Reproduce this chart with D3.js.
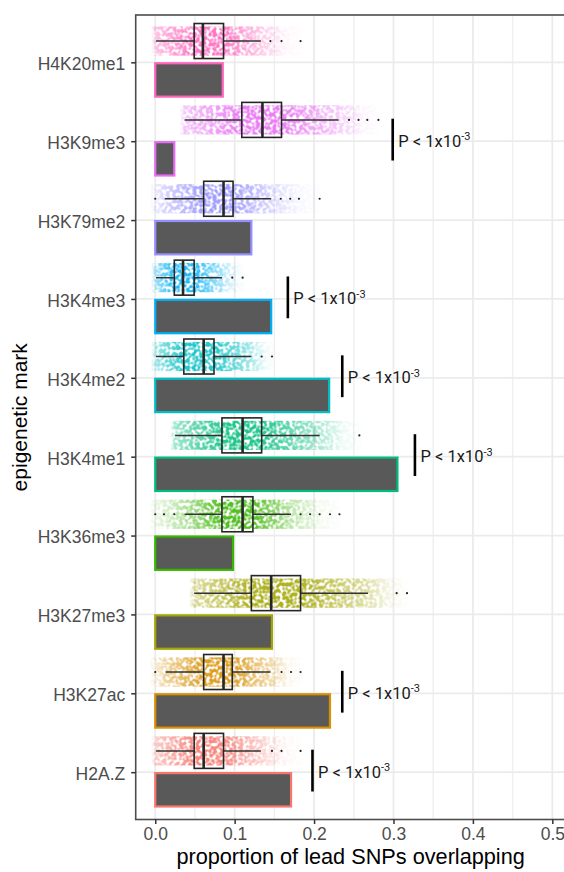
<!DOCTYPE html>
<html>
<head>
<meta charset="utf-8">
<script src="https://cdn.jsdelivr.net/npm/d3@7/dist/d3.min.js"></script>
<style>
  html, body { margin: 0; padding: 0; background: #fff; }
  svg { display: block; }
</style>
</head>
<body>
<svg id="chart" width="564" height="872"></svg>
<script>
// Epigenetic marks, top to bottom
const marks = ["H4K20me1", "H3K9me3", "H3K79me2", "H3K4me3", "H3K4me2",
               "H3K4me1", "H3K36me3", "H3K27me3", "H3K27ac", "H2A.Z"];

// Observed proportion of lead SNPs overlapping each mark (bars)
const observed = [0.085, 0.024, 0.121, 0.146, 0.219, 0.305, 0.098, 0.147, 0.220, 0.171];

// Null distribution summaries (box plots)
const whiskerLow  = [0.001, 0.037, 0.012, 0.001, 0.001, 0.025, 0.037, 0.049, 0.013, 0.001];
const q1          = [0.049, 0.109, 0.061, 0.024, 0.036, 0.084, 0.084, 0.121, 0.061, 0.049];
const median      = [0.060, 0.135, 0.086, 0.035, 0.061, 0.110, 0.110, 0.146, 0.086, 0.061];
const q3          = [0.086, 0.159, 0.098, 0.049, 0.074, 0.134, 0.123, 0.183, 0.097, 0.086];
const whiskerHigh = [0.133, 0.231, 0.146, 0.084, 0.121, 0.207, 0.171, 0.268, 0.145, 0.133];
const outliers = [
  [0.145, 0.159, 0.183],
  [0.244, 0.256, 0.267, 0.281],
  [0.000, 0.158, 0.170, 0.181, 0.207],
  [0.097, 0.110],
  [0.134, 0.147],
  [0.257],
  [0.000, 0.011, 0.024, 0.183, 0.195, 0.207, 0.220, 0.232],
  [0.304, 0.317],
  [0.000, 0.159, 0.171, 0.183],
  [0.147, 0.159, 0.183]
];

// Significance annotations: mark, x position of the bracket
const sigMarks = ["H3K9me3", "H3K4me3", "H3K4me2", "H3K4me1", "H3K27ac", "H2A.Z"];
const sigX     = [0.299, 0.167, 0.2355, 0.327, 0.2355, 0.198];
const sigLabel = "P < 1x10";
const sigExp   = "-3";

const xTicks = [0, 0.1, 0.2, 0.3, 0.4, 0.5];
const xMinor = [0.05, 0.15, 0.25, 0.35, 0.45];
const xLimits = [-0.0246, 0.5166];

// default ggplot hue palette, assigned alphabetically
const hue = {
  "H2A.Z": "#F8766D", "H3K27ac": "#D89000", "H3K27me3": "#A3A500",
  "H3K36me3": "#39B600", "H3K4me1": "#00BF7D", "H3K4me2": "#00BFC4",
  "H3K4me3": "#00B0F6", "H3K79me2": "#9590FF", "H3K9me3": "#E76BF3",
  "H4K20me1": "#FF62BC"
};

const rows = marks.map((m, i) => ({
  mark: m, obs: observed[i], wl: whiskerLow[i], q1: q1[i], med: median[i],
  q3: q3[i], wh: whiskerHigh[i], out: outliers[i], color: hue[m]
}));

const panel = { left: 135.7, right: 565.5, top: 15, bottom: 819.5 };

const x = d3.scaleLinear().domain(xLimits).range([panel.left, panel.right]);
const y = d3.scalePoint().domain(marks).range([panel.top, panel.bottom]).padding(0.6);
const step = y.step();

const boxOff = -0.27 * step;   // box centre relative to the tick
const boxHalf = 0.222 * step;
const cloudHalf = 0.185 * step;
const barTop = 0.012 * step, barBottom = 0.435 * step;

const svg = d3.select("#chart");
const defs = svg.append("defs");

// grainy texture that breaks the density bands into soft specks
const grain = defs.append("filter").attr("id", "grain")
  .attr("x", "-5%").attr("y", "-20%").attr("width", "110%").attr("height", "140%");
grain.append("feTurbulence").attr("type", "fractalNoise").attr("baseFrequency", 0.3)
  .attr("numOctaves", 1).attr("seed", 11).attr("result", "noise");
grain.append("feComponentTransfer").attr("in", "noise").attr("result", "specks")
  .append("feFuncA").attr("type", "linear").attr("slope", 4.2).attr("intercept", -1.45);
grain.append("feComposite").attr("in", "SourceGraphic").attr("in2", "specks")
  .attr("operator", "in").attr("result", "dots");
grain.append("feGaussianBlur").attr("in", "dots").attr("stdDeviation", 0.45);

defs.append("clipPath").attr("id", "panelClip").append("rect")
  .attr("x", panel.left).attr("y", panel.top)
  .attr("width", panel.right - panel.left).attr("height", panel.bottom - panel.top);

// grid
const grid = svg.append("g");
grid.selectAll("line.minor").data(xMinor).join("line")
  .attr("x1", d => x(d)).attr("x2", d => x(d))
  .attr("y1", panel.top).attr("y2", panel.bottom)
  .attr("stroke", "#efefef").attr("stroke-width", 1.4);
grid.selectAll("line.majx").data(xTicks).join("line")
  .attr("x1", d => x(d)).attr("x2", d => x(d))
  .attr("y1", panel.top).attr("y2", panel.bottom)
  .attr("stroke", "#ebebeb").attr("stroke-width", 1.8);
grid.selectAll("line.majy").data(marks).join("line")
  .attr("x1", panel.left).attr("x2", panel.right)
  .attr("y1", d => y(d)).attr("y2", d => y(d))
  .attr("stroke", "#ebebeb").attr("stroke-width", 1.8);

const plot = svg.append("g").attr("clip-path", "url(#panelClip)");

// jittered null draws, shown as a speckled density band
const cloudLo = r => Math.min(r.wl, d3.min(r.out)) - 0.006;
const cloudHi = r => Math.max(r.wh, d3.max(r.out)) + 0.006;
rows.forEach((r, i) => {
  const lo = cloudLo(r), hi = cloudHi(r);
  const g = defs.append("linearGradient").attr("id", "cloud" + i)
    .attr("gradientUnits", "userSpaceOnUse")
    .attr("x1", x(lo)).attr("x2", x(hi)).attr("y1", 0).attr("y2", 0);
  const pos = v => (x(v) - x(lo)) / (x(hi) - x(lo));
  const tail = r.wh + (hi - r.wh) * 0.55;
  [[lo, 0.05], [r.wl, 0.45], [r.q1, 1], [r.med, 1], [r.q3, 1], [r.wh, 0.4], [tail, 0.08], [hi, 0]]
    .forEach(([v, o]) => g.append("stop").attr("offset", pos(v))
      .attr("stop-color", r.color).attr("stop-opacity", o));
});
plot.append("g").attr("filter", "url(#grain)").attr("opacity", 0.85)
  .selectAll("rect").data(rows).join("rect")
  .attr("x", d => x(cloudLo(d)))
  .attr("width", d => x(cloudHi(d)) - x(cloudLo(d)))
  .attr("y", d => y(d.mark) + boxOff - cloudHalf)
  .attr("height", 2 * cloudHalf)
  .attr("fill", (d, i) => `url(#cloud${i})`);

// box plots
const boxes = plot.append("g").selectAll("g").data(rows).join("g")
  .attr("transform", d => `translate(0,${y(d.mark) + boxOff})`);
boxes.append("line").attr("x1", d => x(d.wl)).attr("x2", d => x(d.q1))
  .attr("stroke", "#333").attr("stroke-width", 1.5);
boxes.append("line").attr("x1", d => x(d.q3)).attr("x2", d => x(d.wh))
  .attr("stroke", "#333").attr("stroke-width", 1.5);
boxes.append("rect").attr("x", d => x(d.q1)).attr("width", d => x(d.q3) - x(d.q1))
  .attr("y", -boxHalf).attr("height", 2 * boxHalf)
  .attr("fill", "none").attr("stroke", "#262626").attr("stroke-width", 1.6);
boxes.append("line").attr("x1", d => x(d.med)).attr("x2", d => x(d.med))
  .attr("y1", -boxHalf).attr("y2", boxHalf)
  .attr("stroke", "#262626").attr("stroke-width", 2.6);
boxes.selectAll("circle").data(d => d.out).join("circle")
  .attr("cx", d => x(d)).attr("cy", 0).attr("r", 1.1).attr("fill", "#222");

// observed bars
plot.append("g").selectAll("rect").data(rows).join("rect")
  .attr("x", x(0)).attr("width", d => x(d.obs) - x(0))
  .attr("y", d => y(d.mark) + barTop).attr("height", barBottom - barTop)
  .attr("fill", "#595959").attr("stroke", d => d.color).attr("stroke-width", 2.2);

// significance annotations
const sig = svg.append("g").selectAll("g").data(sigMarks.map((m, i) => ({ mark: m, x: sigX[i] })))
  .join("g").attr("transform", d => `translate(${x(d.x)},${y(d.mark)})`);
sig.append("line").attr("y1", -0.285 * step).attr("y2", 0.245 * step)
  .attr("stroke", "#000").attr("stroke-width", 2.6);
const st = sig.append("text").attr("x", 5.5).attr("y", 5.5)
  .attr("font-family", "Roboto, 'Open Sans', sans-serif").attr("font-size", 16.5)
  .attr("fill", "#1a1a1a");
st.append("tspan").text(sigLabel);
st.append("tspan").attr("font-size", 11).attr("dy", -6.5).text(sigExp);

// panel border
svg.append("rect").attr("x", panel.left).attr("y", panel.top)
  .attr("width", panel.right - panel.left).attr("height", panel.bottom - panel.top)
  .attr("fill", "none").attr("stroke", "#4d4d4d").attr("stroke-width", 1.6);

// axes
const xAxis = svg.append("g").attr("transform", `translate(0,${panel.bottom})`)
  .call(d3.axisBottom(x).tickValues(xTicks).tickFormat(d3.format(".1f"))
    .tickSize(4.5).tickPadding(4));
const yAxis = svg.append("g").attr("transform", `translate(${panel.left},0)`)
  .call(d3.axisLeft(y).tickSize(4.5).tickPadding(6));
[xAxis, yAxis].forEach(a => {
  a.select(".domain").remove();
  a.selectAll(".tick line").attr("stroke", "#333").attr("stroke-width", 1.5);
  a.selectAll(".tick text").attr("fill", "#4d4d4d")
    .attr("font-family", "'Liberation Sans', Arial, sans-serif").attr("font-size", 17.5);
});
yAxis.selectAll(".tick text").attr("dy", "0.42em");

svg.append("text").attr("x", (panel.left + panel.right) / 2).attr("y", 864)
  .attr("text-anchor", "middle").attr("font-family", "'Liberation Sans', Arial, sans-serif")
  .attr("font-size", 21.7).attr("fill", "#000").text("proportion of lead SNPs overlapping");
svg.append("text").attr("transform", `translate(26.5,${(panel.top + panel.bottom) / 2}) rotate(-90)`)
  .attr("text-anchor", "middle").attr("font-family", "'Liberation Sans', Arial, sans-serif")
  .attr("font-size", 21).attr("fill", "#000").text("epigenetic mark");
</script>
</body>
</html>
